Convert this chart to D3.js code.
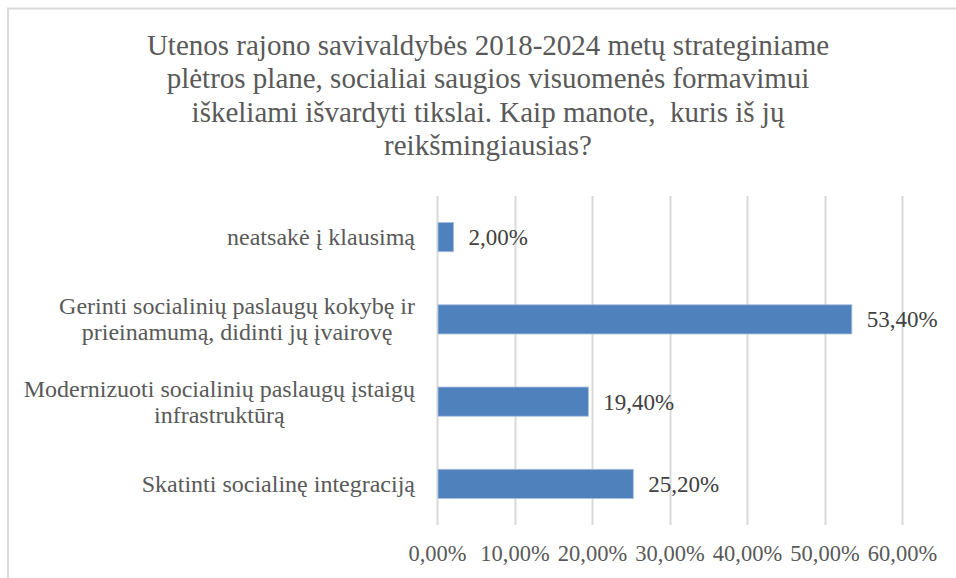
<!DOCTYPE html>
<html>
<head>
    <meta charset="utf-8">
    <script src="https://d3js.org/d3.v7.min.js"></script>
    <style>
        body { margin: 0; background: #fff; }
        svg text { font-family: "Liberation Serif", Tinos, "Times New Roman", "DejaVu Serif", serif; }
    </style>
</head>
<body>
    <div id="chart"></div>
    <script>
        // data
        var titleLines = [
            "Utenos rajono savivaldybės 2018-2024 metų strateginiame",
            "plėtros plane, socialiai saugios visuomenės formavimui",
            "iškeliami išvardyti tikslai. Kaip manote,  kuris iš jų",
            "reikšmingiausias?"
        ];
        var categories = [
            ["neatsakė į klausimą"],
            ["Gerinti socialinių paslaugų kokybę ir", "prieinamumą, didinti jų įvairovę"],
            ["Modernizuoti socialinių paslaugų įstaigų", "infrastruktūrą"],
            ["Skatinti socialinę integraciją"]
        ];
        var values = [2.0, 53.4, 19.4, 25.2];
        var ticks = [0, 10, 20, 30, 40, 50, 60];

        var W = 956, H = 578;
        var margin = { top: 196, right: 54, bottom: 53, left: 437 },
            width = 902 - margin.left,
            height = 525 - margin.top;

        var fmt = function (v) { return v.toFixed(2).replace(".", ",") + "%"; };

        var root = d3.select("#chart")
            .append("svg")
            .attr("width", W)
            .attr("height", H);

        // chart frame (only left and top edges are visible)
        root.append("rect")
            .attr("x", 8)
            .attr("y", 8.5)
            .attr("width", W + 20)
            .attr("height", H + 20)
            .attr("fill", "none")
            .attr("stroke", "#d9d9d9")
            .attr("stroke-width", 2);

        // title
        root.append("text")
            .attr("x", 488)
            .attr("y", 55)
            .attr("text-anchor", "middle")
            .style("font-size", "29px")
            .style("fill", "#595959")
            .style("white-space", "pre")
            .selectAll("tspan")
            .data(titleLines)
            .enter().append("tspan")
            .attr("x", 488)
            .attr("dy", function (d, i) { return i === 0 ? 0 : 33.3; })
            .text(function (d) { return d; });

        var svg = root.append("g")
            .attr("transform", "translate(" + margin.left + "," + margin.top + ")");

        var x = d3.scaleLinear()
            .domain([0, 60])
            .range([0, width]);

        var y = d3.scaleBand()
            .domain(d3.range(categories.length))
            .range([0, height])
            .paddingInner(0.645)
            .paddingOuter(0.3225);

        // gridlines
        svg.append("g")
            .selectAll("line")
            .data(ticks)
            .enter().append("line")
            .attr("x1", function (d) { return Math.round(x(d)) + 0.5; })
            .attr("x2", function (d) { return Math.round(x(d)) + 0.5; })
            .attr("y1", 0)
            .attr("y2", height)
            .attr("stroke", "#d9d9d9")
            .attr("stroke-width", 2);

        // x axis labels
        var xAxis = svg.append("g")
            .attr("transform", "translate(0," + height + ")")
            .call(d3.axisBottom(x).tickValues(ticks).tickSize(0).tickFormat(fmt));
        xAxis.attr("font-family", null);
        xAxis.select(".domain").remove();
        xAxis.selectAll("text")
            .attr("y", 36)
            .attr("dy", 0)
            .style("font-size", "22.5px")
            .style("fill", "#595959");

        // bars
        svg.append("g")
            .selectAll("rect")
            .data(values)
            .enter().append("rect")
            .attr("x", x(0) + 1)
            .attr("y", function (d, i) { return y(i); })
            .attr("width", function (d) { return x(d) - x(0); })
            .attr("height", y.bandwidth())
            .attr("fill", "#4f81bd")
            .attr("stroke", "#a7c0de")
            .attr("stroke-width", 0.8);

        // value labels
        svg.append("g")
            .selectAll("text")
            .data(values)
            .enter().append("text")
            .attr("x", function (d) { return x(d) + 16; })
            .attr("y", function (d, i) { return y(i) + y.bandwidth() / 2 + 8; })
            .style("font-size", "23px")
            .style("fill", "#404040")
            .text(fmt);

        // category labels: block right-aligned, lines centred within block
        var labels = svg.append("g")
            .selectAll("text")
            .data(categories)
            .enter().append("text")
            .style("font-size", "24px")
            .style("fill", "#595959");

        labels.each(function (lines, i) {
            var t = d3.select(this);
            var cy = y(i) + y.bandwidth() / 2 + 8;
            var spans = t.selectAll("tspan")
                .data(lines)
                .enter().append("tspan")
                .attr("y", function (d, k) { return cy + (k - (lines.length - 1) / 2) * 26; })
                .text(function (d) { return d; });
            var maxW = 0;
            spans.each(function () { maxW = Math.max(maxW, this.getComputedTextLength()); });
            spans.attr("x", -22 - maxW / 2).attr("text-anchor", "middle");
        });
    </script>
</body>
</html>
